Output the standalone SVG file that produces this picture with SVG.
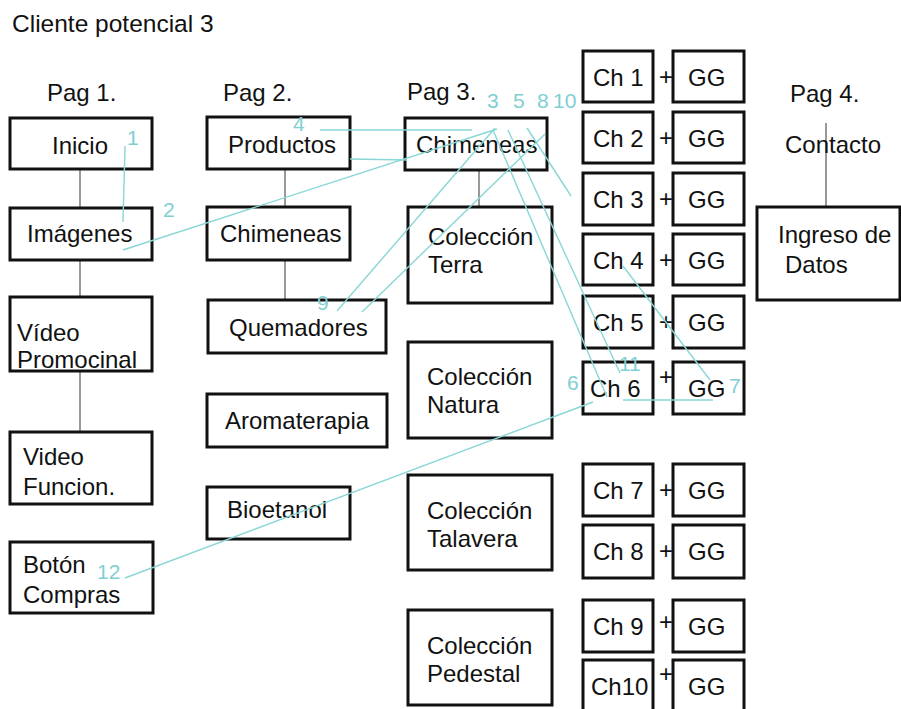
<svg xmlns="http://www.w3.org/2000/svg" width="901" height="709" viewBox="0 0 901 709">
<style>
text{font-family:"Liberation Sans",Arial,sans-serif;font-size:24px;fill:#111}
.t{font-size:24.5px}
.b{fill:#fff;stroke:#111;stroke-width:3}
.g{stroke:#555;stroke-width:1.2;fill:none}
.c{stroke:#8ad6d6;stroke-width:1.4;fill:none}
.n{fill:#7fcfd2;font-size:21px}
</style>
<rect width="901" height="709" fill="#fff"/>
<text class="t" x="12" y="32">Cliente potencial 3</text>
<text x="47" y="101">Pag 1.</text>
<text x="223" y="101">Pag 2.</text>
<text x="407" y="100">Pag 3.</text>
<text x="790" y="102">Pag 4.</text>
<g id="connectors">
<line class="g" x1="80" y1="169" x2="80" y2="208"/>
<line class="g" x1="80" y1="260" x2="80" y2="297"/>
<line class="g" x1="80" y1="371" x2="80" y2="432"/>
<line class="g" x1="285" y1="169" x2="285" y2="207"/>
<line class="g" x1="285" y1="260" x2="285" y2="300"/>
<line class="g" x1="479" y1="170" x2="479" y2="207"/>
<line class="g" x1="826" y1="123" x2="826" y2="207"/>
</g>
<g id="pag1">
<g id="inicio"><rect class="b" x="10" y="118" width="142" height="51"/><text x="52" y="154">Inicio</text></g>
<g id="imagenes"><rect class="b" x="10" y="208" width="142" height="52"/><text x="27" y="242">Imágenes</text></g>
<g id="video-promo"><rect class="b" x="10" y="297" width="142" height="74"/><text x="17" y="341">Vídeo</text><text x="17" y="368">Promocinal</text></g>
<g id="video-func"><rect class="b" x="10" y="432" width="142" height="72"/><text x="23" y="465">Video</text><text x="23" y="495">Funcion.</text></g>
<g id="boton"><rect class="b" x="10" y="542" width="143" height="71"/><text x="23" y="573">Botón</text><text x="23" y="603">Compras</text></g>
</g>
<g id="pag2">
<g id="productos"><rect class="b" x="207" y="117" width="143" height="52"/><text x="228" y="153">Productos</text></g>
<g id="chimeneas2"><rect class="b" x="207" y="207" width="143" height="53"/><text x="220" y="242">Chimeneas</text></g>
<g id="quemadores"><rect class="b" x="208" y="300" width="178" height="53"/><text x="229" y="336">Quemadores</text></g>
<g id="aromaterapia"><rect class="b" x="207" y="394" width="180" height="53"/><text x="225" y="429">Aromaterapia</text></g>
<g id="bioetanol"><rect class="b" x="207" y="487" width="143" height="52"/><text x="227" y="518">Bioetanol</text></g>
</g>
<g id="pag3">
<g id="chimeneas3"><rect class="b" x="405" y="118" width="142" height="52"/><text x="416" y="153">Chimeneas</text></g>
<g id="terra"><rect class="b" x="408" y="207" width="144" height="96"/><text x="428" y="245">Colección</text><text x="428" y="273">Terra</text></g>
<g id="natura"><rect class="b" x="408" y="342" width="144" height="96"/><text x="427" y="385">Colección</text><text x="427" y="413">Natura</text></g>
<g id="talavera"><rect class="b" x="408" y="475" width="144" height="95"/><text x="427" y="519">Colección</text><text x="427" y="547">Talavera</text></g>
<g id="pedestal"><rect class="b" x="408" y="610" width="144" height="95"/><text x="427" y="654">Colección</text><text x="427" y="682">Pedestal</text></g>
</g>
<g id="ch-column">
<g id="ch1"><rect class="b" x="583" y="51" width="70" height="51"/><text x="593" y="86">Ch 1</text><text x="659" y="85">+</text><rect class="b" x="673" y="51" width="71" height="51"/><text x="688" y="86">GG</text></g>
<g id="ch2"><rect class="b" x="583" y="112" width="70" height="51"/><text x="593" y="147">Ch 2</text><text x="659" y="146">+</text><rect class="b" x="673" y="112" width="71" height="51"/><text x="688" y="147">GG</text></g>
<g id="ch3"><rect class="b" x="583" y="173" width="70" height="52"/><text x="593" y="208">Ch 3</text><text x="659" y="207">+</text><rect class="b" x="673" y="173" width="71" height="52"/><text x="688" y="208">GG</text></g>
<g id="ch4"><rect class="b" x="583" y="234" width="70" height="51"/><text x="593" y="269">Ch 4</text><text x="659" y="268">+</text><rect class="b" x="673" y="234" width="71" height="51"/><text x="688" y="269">GG</text></g>
<g id="ch5"><rect class="b" x="583" y="296" width="70" height="52"/><text x="593" y="331">Ch 5</text><text x="659" y="330">+</text><rect class="b" x="673" y="296" width="71" height="52"/><text x="688" y="331">GG</text></g>
<g id="ch6"><rect class="b" x="583" y="362" width="70" height="52"/><text x="590" y="397">Ch 6</text><text x="659" y="385">+</text><rect class="b" x="673" y="362" width="71" height="52"/><text x="688" y="397">GG</text></g>
<g id="ch7"><rect class="b" x="583" y="464" width="70" height="52"/><text x="593" y="499">Ch 7</text><text x="659" y="498">+</text><rect class="b" x="673" y="464" width="71" height="52"/><text x="688" y="499">GG</text></g>
<g id="ch8"><rect class="b" x="583" y="525" width="70" height="53"/><text x="593" y="560">Ch 8</text><text x="659" y="559">+</text><rect class="b" x="673" y="525" width="71" height="53"/><text x="688" y="560">GG</text></g>
<g id="ch9"><rect class="b" x="583" y="600" width="70" height="52"/><text x="593" y="635">Ch 9</text><text x="659" y="630">+</text><rect class="b" x="673" y="600" width="71" height="52"/><text x="688" y="635">GG</text></g>
<g id="ch10"><rect class="b" x="583" y="660" width="70" height="52"/><text x="591" y="695">Ch10</text><text x="659" y="682">+</text><rect class="b" x="673" y="660" width="71" height="52"/><text x="688" y="695">GG</text></g>
</g>
<g id="pag4">
<g id="contacto"><text x="785" y="153">Contacto</text></g>
<g id="ingreso"><rect class="b" x="757" y="207" width="143" height="93"/><text x="778" y="243">Ingreso de</text><text x="785" y="273">Datos</text></g>
</g>
<g id="path-lines">
<line class="c" x1="125" y1="146" x2="123" y2="222"/>
<line class="c" x1="123" y1="250" x2="497" y2="129"/>
<line class="c" x1="320" y1="130" x2="472" y2="130"/>
<line class="c" x1="350" y1="159" x2="407" y2="160"/>
<line class="c" x1="493" y1="130" x2="607" y2="397"/>
<line class="c" x1="508" y1="130" x2="620" y2="373"/>
<line class="c" x1="623" y1="400" x2="713" y2="400"/>
<line class="c" x1="527" y1="128" x2="571" y2="196"/>
<line class="c" x1="623" y1="266" x2="710" y2="380"/>
<line class="c" x1="495" y1="128" x2="337" y2="311"/>
<line class="c" x1="545" y1="134" x2="362" y2="312"/>
<line class="c" x1="593" y1="402" x2="125" y2="578"/>
</g>
<g id="step-labels">
<text class="n" x="127" y="145">1</text>
<text class="n" x="163" y="217">2</text>
<text class="n" x="487" y="108">3</text>
<text class="n" x="293" y="131">4</text>
<text class="n" x="513" y="108">5</text>
<text class="n" x="537" y="108">8</text>
<text class="n" x="553" y="108">10</text>
<text class="n" x="317" y="310">9</text>
<text class="n" x="567" y="390">6</text>
<text class="n" x="619" y="371">11</text>
<text class="n" x="729" y="393">7</text>
<text class="n" x="97" y="579">12</text>
</g>
</svg>
